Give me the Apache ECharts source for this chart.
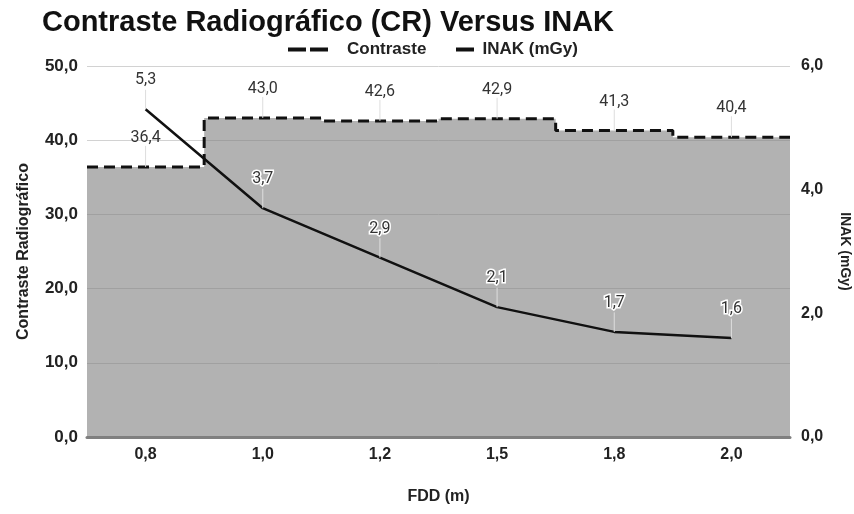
<!DOCTYPE html>
<html>
<head>
<meta charset="utf-8">
<script src="https://cdn.jsdelivr.net/npm/echarts@6/dist/echarts.min.js"></script>
<style>
  html, body { margin: 0; padding: 0; background: #fff; }
  #chart { width: 854px; height: 514px; }
</style>
</head>
<body>
<div id="chart"></div>
<script>
// dados do gráfico
const fdd = ['0,8', '1,0', '1,2', '1,5', '1,8', '2,0']
const contraste = [36.4, 43.0, 42.6, 42.9, 41.3, 40.4]
const inak = [5.3, 3.7, 2.9, 2.1, 1.7, 1.6]

const fmt = (v) => Number(v).toFixed(1).replace('.', ',')

// degraus: cada valor ocupa toda a faixa da categoria
const stepData = contraste.map((v, i) => [i, v]).concat([[contraste.length, contraste[contraste.length - 1]]])

const chart = echarts.init(document.getElementById('chart'))

const boldFont = 'Liberation Sans, Arial, sans-serif'

const labelFont = {
  fontFamily: 'Roboto, sans-serif',
  fontSize: 16,
  color: '#333'
}

const options = {
  animation: false,
  title: {
    text: 'Contraste Radiográfico (CR) Versus INAK',
    left: 37,
    top: 3,
    textStyle: {
      fontFamily: boldFont,
      fontSize: 29,
      fontWeight: 'bold',
      color: '#111'
    }
  },
  legend: [
    {
      data: [{ name: 'Contraste', icon: 'path://M0,0H18V4H0Z M22,0H40V4H22Z' }],
      left: 283,
      top: 36,
      itemWidth: 40,
      itemHeight: 4,
      textStyle: { fontFamily: boldFont, fontSize: 17, fontWeight: 'bold', color: '#222', padding: [0, 0, 0, 14] }
    },
    {
      data: [{ name: 'INAK (mGy)', icon: 'path://M0,0H18V4H0Z' }],
      left: 451,
      top: 36,
      itemWidth: 19,
      itemHeight: 4,
      textStyle: { fontFamily: boldFont, fontSize: 17, fontWeight: 'bold', color: '#222', padding: [0, 0, 0, 3] }
    }
  ],
  grid: {
    left: 87,
    right: 64,
    top: 66,
    bottom: 77,
    outerBoundsMode: 'none'
  },
  xAxis: [
    {
      type: 'category',
      data: fdd,
      boundaryGap: true,
      name: 'FDD (m)',
      nameLocation: 'middle',
      nameGap: 52,
      nameMoveOverlap: false,
      nameTextStyle: { fontFamily: boldFont, fontSize: 16, fontWeight: 'bold', color: '#222' },
      axisLine: { show: true, lineStyle: { color: '#808080', width: 3 } },
      axisTick: { show: false },
      axisLabel: {
        margin: 10,
        fontFamily: boldFont,
        fontSize: 16,
        fontWeight: 'bold',
        color: '#222'
      }
    },
    {
      // eixo auxiliar para o degrau ocupar a faixa inteira
      type: 'value',
      min: 0,
      max: fdd.length,
      show: false
    }
  ],
  yAxis: [
    {
      type: 'value',
      min: 0,
      max: 50,
      interval: 10,
      name: 'Contraste Radiográfico',
      nameLocation: 'middle',
      nameGap: 55,
      nameMoveOverlap: false,
      nameTextStyle: { fontFamily: boldFont, fontSize: 16, fontWeight: 'bold', color: '#222' },
      axisLine: { show: false },
      axisTick: { show: false },
      axisLabel: {
        margin: 9,
        formatter: fmt,
        fontFamily: boldFont,
        fontSize: 17,
        fontWeight: 'bold',
        color: '#222'
      },
      splitLine: { lineStyle: { color: '#d2d2d2', width: 1 } }
    },
    {
      type: 'value',
      min: 0,
      max: 6,
      interval: 2,
      name: 'INAK (mGy)',
      nameLocation: 'middle',
      nameGap: 48,
      nameRotate: -90,
      nameMoveOverlap: false,
      nameTextStyle: { fontFamily: boldFont, fontSize: 14, fontWeight: 'bold', color: '#222' },
      axisLine: { show: false },
      axisTick: { show: false },
      axisLabel: {
        margin: 11,
        formatter: fmt,
        fontFamily: boldFont,
        fontSize: 16,
        fontWeight: 'bold',
        color: '#222'
      },
      splitLine: { show: false }
    }
  ],
  series: [
    {
      name: 'Contraste',
      type: 'line',
      xAxisIndex: 1,
      yAxisIndex: 0,
      step: 'end',
      data: stepData,
      symbol: 'none',
      lineStyle: { color: '#111', width: 3, type: [11, 6] },
      itemStyle: { color: '#111' },
      areaStyle: { color: '#7f7f7f', opacity: 0.6 },
      z: 2
    },
    {
      // rótulos do contraste no centro de cada categoria
      name: 'contrasteLabels',
      type: 'line',
      xAxisIndex: 0,
      yAxisIndex: 0,
      data: contraste,
      symbol: 'circle',
      symbolSize: 0.01,
      showSymbol: true,
      lineStyle: { opacity: 0 },
      itemStyle: { color: '#111' },
      silent: true,
      label: {
        show: true,
        position: 'top',
        distance: 0,
        formatter: (p) => fmt(p.value),
        ...labelFont
      },
      labelLayout: { dy: -21 },
      labelLine: { show: true, lineStyle: { color: '#ddd', width: 1 } },
      z: 3
    },
    {
      name: 'INAK (mGy)',
      type: 'line',
      xAxisIndex: 0,
      yAxisIndex: 1,
      data: inak,
      symbol: 'circle',
      symbolSize: 0.01,
      showSymbol: true,
      lineStyle: { color: '#111', width: 2.5 },
      itemStyle: { color: '#111' },
      label: {
        show: true,
        position: 'top',
        distance: 0,
        formatter: (p) => fmt(p.value),
        textBorderColor: '#fff',
        textBorderWidth: 3,
        ...labelFont
      },
      labelLayout: { dy: -21 },
      labelLine: { show: true, lineStyle: { color: '#ddd', width: 1 } },
      z: 4
    }
  ]
}

chart.setOption(options)
</script>
</body>
</html>
